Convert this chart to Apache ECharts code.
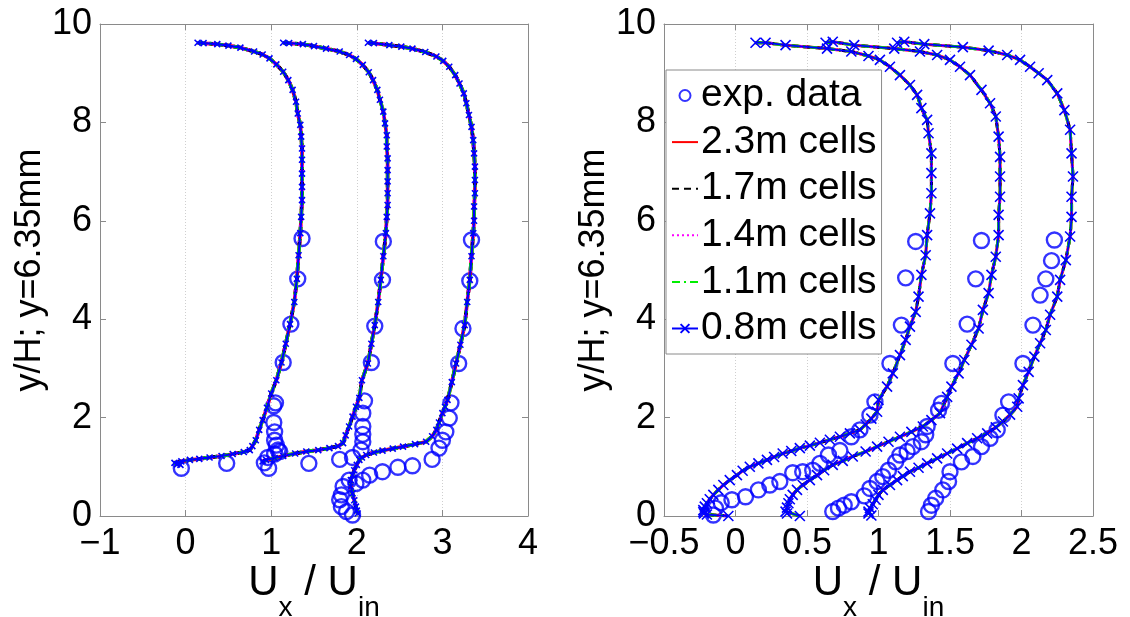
<!DOCTYPE html>
<html><head><meta charset="utf-8">
<script src="https://cdn.jsdelivr.net/npm/echarts@6/dist/echarts.min.js"></script>
<style>html,body{margin:0;padding:0;background:#fff}#c{width:1130px;height:617px}</style>
</head><body><div id="c"></div><script>
// ---- tick definitions ----
const xTicksL = [-1, 0, 1, 2, 3, 4];
const xTicksR = [-0.5, 0, 0.5, 1, 1.5, 2, 2.5];
const yTicks = [0, 2, 4, 6, 8, 10];

const legendNames = ['exp. data', '2.3m cells', '1.7m cells', '1.4m cells', '1.1m cells', '0.8m cells'];

// ---- left panel: simulated profiles (plotted x = U_x/U_in incl. profile shift, y = y/H) ----
const L_sim1 = [[0.14,9.62],[0.21,9.61],[0.37,9.59],[0.50,9.56],[0.64,9.52],[0.80,9.44],[0.90,9.38],[0.98,9.30],[1.06,9.18],[1.14,9.03],[1.20,8.86],[1.25,8.66],[1.29,8.42],[1.31,8.18],[1.34,7.95],[1.35,7.71],[1.36,7.47],[1.36,7.24],[1.36,6.96],[1.36,6.69],[1.36,6.42],[1.35,6.08],[1.34,5.75],[1.32,5.30],[1.30,4.82],[1.27,4.35],[1.22,3.90],[1.17,3.50],[1.12,3.12],[1.06,2.76],[1.00,2.49],[0.95,2.20],[0.90,1.95],[0.86,1.75],[0.82,1.54],[0.78,1.42],[0.75,1.34],[0.68,1.30],[0.55,1.26],[0.42,1.22],[0.28,1.19],[0.16,1.16],[0.05,1.14],[-0.05,1.11],[-0.13,1.08],[-0.10,1.05],[-0.06,1.04]];
const L_sim2 = [[1.14,9.62],[1.21,9.61],[1.37,9.59],[1.50,9.55],[1.64,9.50],[1.80,9.44],[1.91,9.37],[1.99,9.29],[2.07,9.17],[2.14,9.02],[2.19,8.86],[2.24,8.66],[2.27,8.46],[2.31,8.22],[2.33,7.98],[2.35,7.74],[2.35,7.51],[2.36,7.27],[2.36,7.03],[2.36,6.80],[2.36,6.56],[2.36,6.32],[2.35,6.08],[2.34,5.75],[2.31,5.28],[2.28,4.80],[2.25,4.35],[2.21,3.88],[2.17,3.50],[2.13,3.10],[2.06,2.76],[2.03,2.40],[1.99,2.22],[1.95,2.02],[1.91,1.82],[1.87,1.64],[1.84,1.48],[1.78,1.42],[1.68,1.38],[1.55,1.34],[1.41,1.31],[1.28,1.27],[1.14,1.22],[1.04,1.18],[0.94,1.14],[0.90,1.11]];
const L_sim3 = [[2.13,9.62],[2.20,9.61],[2.38,9.57],[2.52,9.54],[2.65,9.50],[2.80,9.43],[2.93,9.34],[3.01,9.25],[3.08,9.13],[3.15,8.96],[3.20,8.79],[3.25,8.59],[3.28,8.39],[3.31,8.15],[3.34,7.91],[3.36,7.64],[3.37,7.37],[3.38,7.10],[3.38,6.83],[3.38,6.56],[3.37,6.29],[3.37,6.00],[3.36,5.75],[3.34,5.28],[3.32,4.80],[3.29,4.35],[3.26,3.88],[3.21,3.48],[3.16,3.10],[3.11,2.72],[3.06,2.36],[3.03,2.22],[3.00,2.09],[2.96,1.90],[2.93,1.75],[2.88,1.62],[2.81,1.51],[2.68,1.46],[2.54,1.41],[2.42,1.37],[2.30,1.33],[2.20,1.29],[2.11,1.24],[2.06,1.19],[2.03,1.14],[2.00,1.04],[1.97,0.93],[1.95,0.83],[1.93,0.73],[1.93,0.60],[1.95,0.46],[1.97,0.32],[1.99,0.19],[2.00,0.11],[2.01,0.05]];

// ---- left panel: experimental data ----
const L_exp1 = [[-0.05,0.97],[0.48,1.07],[0.96,1.19],[0.92,1.08],[0.97,0.97],[1.04,1.26],[1.08,1.34],[1.10,1.31],[1.06,1.44],[1.04,1.54],[1.04,1.71],[1.03,1.90],[1.03,2.24],[1.05,2.30],[1.14,3.12],[1.23,3.90],[1.31,4.82],[1.36,5.64]];
const L_exp2 = [[1.44,1.07],[1.80,1.15],[1.95,1.19],[2.05,1.34],[2.07,1.51],[2.07,1.66],[2.07,1.82],[2.07,2.09],[2.09,2.34],[2.17,3.12],[2.21,3.86],[2.30,4.80],[2.31,5.58]];
const L_exp3 = [[1.95,0.02],[1.88,0.09],[1.82,0.19],[1.80,0.33],[1.82,0.43],[1.84,0.60],[1.91,0.73],[1.99,0.66],[2.07,0.73],[2.15,0.83],[2.30,0.90],[2.48,0.99],[2.65,1.02],[2.88,1.15],[2.96,1.38],[3.00,1.54],[3.04,1.71],[3.08,1.99],[3.10,2.30],[3.19,3.10],[3.24,3.81],[3.32,4.78],[3.34,5.61]];

// ---- right panel: simulated profiles ----
const R_sim1 = [[0.14,9.62],[0.21,9.62],[0.35,9.57],[0.64,9.50],[0.81,9.44],[0.93,9.35],[1.01,9.27],[1.08,9.13],[1.15,8.96],[1.22,8.76],[1.27,8.56],[1.30,8.29],[1.34,8.05],[1.35,7.78],[1.37,7.37],[1.37,6.97],[1.37,6.56],[1.36,6.15],[1.34,5.71],[1.33,5.30],[1.30,4.90],[1.28,4.46],[1.26,4.15],[1.22,3.85],[1.19,3.58],[1.15,3.27],[1.10,2.90],[1.06,2.63],[1.00,2.36],[0.99,2.12],[0.95,1.98],[0.91,1.86],[0.87,1.75],[0.80,1.68],[0.73,1.61],[0.66,1.55],[0.59,1.49],[0.52,1.43],[0.45,1.38],[0.39,1.32],[0.33,1.27],[0.27,1.20],[0.22,1.14],[0.16,1.07],[0.10,1.00],[0.05,0.92],[0.01,0.83],[-0.04,0.73],[-0.085,0.63],[-0.12,0.53],[-0.155,0.43],[-0.18,0.34],[-0.20,0.26],[-0.215,0.19],[-0.225,0.12],[-0.225,0.08],[-0.22,0.05],[-0.20,0.03],[-0.05,0.0]];
const R_sim2 = [[0.63,9.62],[0.68,9.64],[0.83,9.57],[1.11,9.50],[1.29,9.44],[1.41,9.37],[1.50,9.27],[1.57,9.13],[1.64,8.96],[1.72,8.66],[1.78,8.39],[1.82,8.12],[1.84,7.71],[1.85,7.30],[1.85,6.90],[1.85,6.49],[1.84,6.12],[1.84,5.71],[1.82,5.27],[1.79,4.90],[1.77,4.53],[1.73,4.19],[1.70,3.81],[1.65,3.48],[1.60,3.17],[1.56,2.90],[1.51,2.63],[1.48,2.42],[1.43,2.09],[1.37,1.95],[1.31,1.82],[1.23,1.71],[1.15,1.61],[1.07,1.51],[0.99,1.41],[0.91,1.31],[0.82,1.21],[0.75,1.12],[0.68,1.04],[0.62,0.93],[0.57,0.83],[0.52,0.73],[0.47,0.63],[0.43,0.53],[0.40,0.43],[0.38,0.34],[0.37,0.26],[0.36,0.17],[0.35,0.09],[0.36,0.05],[0.45,0.0]];
const R_sim3 = [[1.13,9.62],[1.18,9.64],[1.32,9.59],[1.59,9.53],[1.77,9.46],[1.90,9.37],[1.99,9.27],[2.06,9.13],[2.12,9.00],[2.18,8.86],[2.25,8.59],[2.30,8.25],[2.34,7.85],[2.35,7.37],[2.36,6.90],[2.35,6.49],[2.35,6.08],[2.34,5.68],[2.31,5.20],[2.27,4.80],[2.25,4.46],[2.20,4.09],[2.17,3.78],[2.13,3.51],[2.09,3.24],[2.05,2.93],[2.01,2.66],[1.98,2.39],[1.97,2.22],[1.92,2.06],[1.87,1.92],[1.82,1.80],[1.76,1.68],[1.69,1.58],[1.62,1.48],[1.55,1.37],[1.48,1.27],[1.41,1.17],[1.34,1.07],[1.28,0.98],[1.22,0.90],[1.17,0.81],[1.13,0.73],[1.08,0.63],[1.03,0.53],[1.00,0.43],[0.98,0.33],[0.96,0.24],[0.94,0.16],[0.93,0.09],[0.93,0.05],[0.95,0.01]];

// ---- right panel: experimental data ----
const R_exp1 = [[1.26,5.58],[1.19,4.84],[1.16,3.88],[1.08,3.10],[0.975,2.32],[0.94,2.05],[0.87,1.75],[0.81,1.61],[0.73,1.33],[0.65,1.24],[0.59,1.07],[0.54,0.93],[0.47,0.90],[0.40,0.88],[0.31,0.70],[0.24,0.63],[0.16,0.53],[0.07,0.39],[-0.025,0.33],[-0.10,0.27],[-0.14,0.16],[-0.155,0.02]];
const R_exp2 = [[1.72,5.60],[1.68,4.82],[1.62,3.90],[1.52,3.10],[1.44,2.29],[1.42,2.15],[1.34,1.82],[1.33,1.65],[1.30,1.51],[1.24,1.41],[1.20,1.31],[1.15,1.24],[1.12,1.10],[1.07,0.93],[1.03,0.80],[0.99,0.70],[0.94,0.56],[0.90,0.41],[0.81,0.29],[0.76,0.22],[0.72,0.16],[0.68,0.09]];
const R_exp3 = [[2.23,5.61],[2.21,5.19],[2.17,4.82],[2.13,4.49],[2.08,3.88],[2.01,3.10],[1.91,2.32],[1.87,2.05],[1.83,1.75],[1.78,1.58],[1.72,1.41],[1.66,1.21],[1.58,1.10],[1.50,0.90],[1.49,0.70],[1.45,0.53],[1.40,0.36],[1.37,0.22],[1.35,0.09]];

// ---- styling ----
const FONT = '"Liberation Sans", Arial, Helvetica, sans-serif';
const AX = '#8a8a8a';
const meshStyles = [
  {name: legendNames[1], color: '#ff0000', type: 'solid'},
  {name: legendNames[2], color: '#000000', type: [7, 5]},
  {name: legendNames[3], color: '#ff00ff', type: [2, 3]},
  {name: legendNames[4], color: '#00ee00', type: [8, 4, 2, 4]},
  {name: legendNames[5], color: '#0000ff', type: 'solid', marker: true}
];
const XPATH = 'path://M0,0L10,10M10,0L0,10';
const minus = v => String(v).replace('-', '\u2212');

const chart = echarts.init(document.getElementById('c'), null, {renderer: 'canvas'});

function xAxisPair(gi, ticks) {
  const base = {
    gridIndex: gi, type: 'value', min: ticks[0], max: ticks[ticks.length - 1],
    interval: ticks[1] - ticks[0],
    axisLine: {onZero: false, lineStyle: {color: AX, width: 1}},
    axisTick: {inside: true, length: 6, lineStyle: {color: AX}}
  };
  return [
    Object.assign({}, base, {
      position: 'bottom',
      axisLabel: {fontSize: 36, color: '#000', fontFamily: FONT, margin: 10, formatter: minus},
      splitLine: {show: true, lineStyle: {color: '#cfcfcf', type: [1, 2], width: 1}},
      name: '{u|U}{s|x}{u| / U}{s|in}', nameLocation: 'middle', nameGap: 46, nameMoveOverlap: false,
      nameTextStyle: {
        color: '#000', fontFamily: FONT,
        rich: {
          u: {fontSize: 42, fontFamily: FONT, color: '#000', lineHeight: 42, verticalAlign: 'top'},
          s: {fontSize: 28, fontFamily: FONT, color: '#000', lineHeight: 28, verticalAlign: 'top', padding: [32, 0, 0, 0]}
        }
      }
    }),
    Object.assign({}, base, {position: 'top', axisLabel: {show: false}, splitLine: {show: false}})
  ];
}
function yAxisPair(gi) {
  const base = {
    gridIndex: gi, type: 'value', min: yTicks[0], max: yTicks[yTicks.length - 1],
    interval: yTicks[1] - yTicks[0],
    axisLine: {onZero: false, lineStyle: {color: AX, width: 1}},
    axisTick: {inside: true, length: 6, lineStyle: {color: AX}},
    splitLine: {show: false}
  };
  return [
    Object.assign({}, base, {
      position: 'left',
      axisLabel: {fontSize: 36, color: '#000', fontFamily: FONT, margin: 8},
      name: 'y/H; y=6.35mm', nameLocation: 'middle', nameGap: 48,
      nameTextStyle: {fontSize: 36, color: '#000', fontFamily: FONT}
    }),
    Object.assign({}, base, {position: 'right', axisLabel: {show: false}})
  ];
}

const series = [];
function addPanel(xi, yi, sims, exps, lw, blw, msize) {
  meshStyles.forEach(m => {
    sims.forEach(d => {
      series.push({
        name: m.name, type: 'line', xAxisIndex: xi, yAxisIndex: yi, data: d,
        animation: false, silent: true,
        symbol: m.marker ? XPATH : 'none', symbolSize: msize, showSymbol: !!m.marker, showAllSymbol: true,
        itemStyle: {color: m.color, borderColor: m.color, borderWidth: 1.6},
        lineStyle: {color: m.color, width: m.marker ? blw : lw, type: m.type}
      });
    });
  });
  exps.forEach(d => {
    series.push({
      name: legendNames[0], type: 'scatter', xAxisIndex: xi, yAxisIndex: yi, data: d,
      animation: false, silent: true, symbol: 'circle', symbolSize: 15,
      itemStyle: {color: 'rgba(0,0,0,0)', borderColor: '#0000ff', borderWidth: 2.4}
    });
  });
}
addPanel(0, 0, [L_sim1, L_sim2, L_sim3], [L_exp1, L_exp2, L_exp3], 3.6, 2.2, 6);
addPanel(2, 2, [R_sim1, R_sim2, R_sim3], [R_exp1, R_exp2, R_exp3], 3.0, 1.8, 10);

const xl = xAxisPair(0, xTicksL), xr = xAxisPair(1, xTicksR);
const yl = yAxisPair(0), yr = yAxisPair(1);

const hideSym = {opacity: 0};
const legendData = legendNames.map((n, i) => {
  if (i === 0 || i === 5) return {name: n};
  return {name: n, itemStyle: hideSym};
});

chart.setOption({
  backgroundColor: '#fff',
  animation: false,
  textStyle: {fontFamily: FONT},
  grid: [
    {left: 100, top: 24, width: 428, height: 492, containLabel: false, outerBoundsMode: 'none'},
    {left: 664, top: 24, width: 429, height: 492, containLabel: false, outerBoundsMode: 'none'}
  ],
  xAxis: [xl[0], xl[1], xr[0], xr[1]],
  yAxis: [yl[0], yl[1], yr[0], yr[1]],
  legend: {
    data: legendData, orient: 'vertical', left: 666, top: 70,
    backgroundColor: '#fff', borderColor: AX, borderWidth: 1,
    padding: [6, 5, 6, 5], itemGap: 7.6, itemWidth: 26, itemHeight: 11,
    lineStyle: {width: 2},
    textStyle: {fontSize: 39, color: '#000', fontFamily: FONT, lineHeight: 38, padding: [0, 0, 0, -2]},
    selectedMode: false, z: 20
  },
  series: series
});
</script></body></html>
